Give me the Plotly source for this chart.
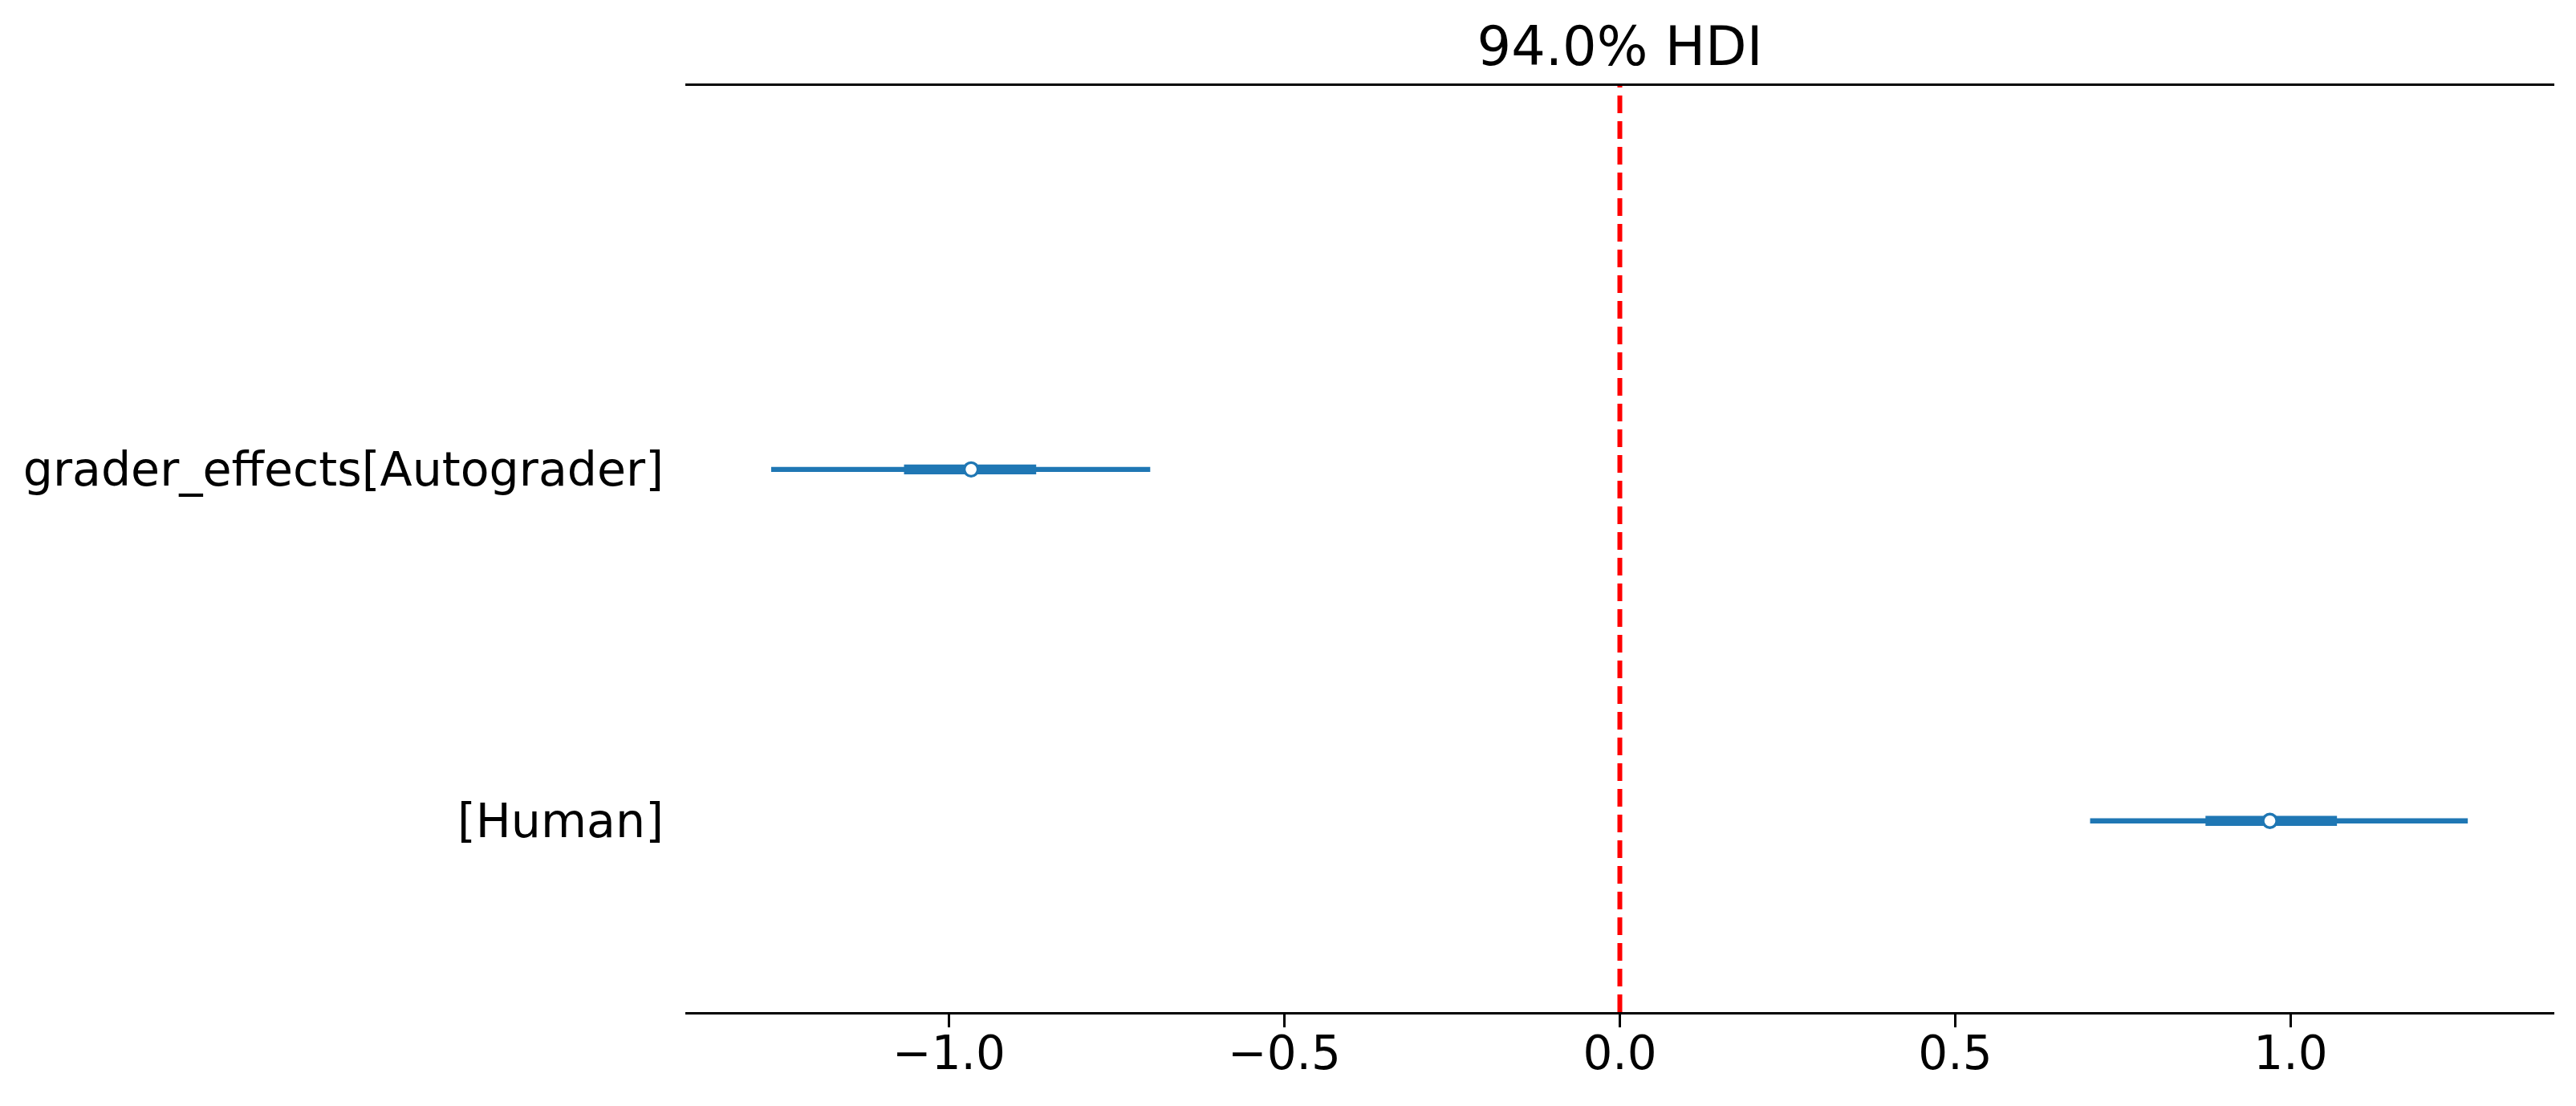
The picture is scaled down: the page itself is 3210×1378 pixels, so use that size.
import plotly.graph_objects as go

# ---- data ----
labels = ["grader_effects[Autograder]", "[Human]"]
row_pos = [1, 0]
hdi_low = [-1.265, 0.701]
hdi_high = [-0.700, 1.264]
q_low = [-1.067, 0.873]
q_high = [-0.870, 1.069]
medians = [-0.967, 0.969]
ref_val = 0.0
x_ticks = [-1.0, -0.5, 0.0, 0.5, 1.0]
title_text = "94.0% HDI"

BLUE = "#1f77b4"
FONT = "DejaVu Sans"

fig = go.Figure()

for i in range(len(labels)):
    fig.add_trace(go.Scatter(
        x=[hdi_low[i], hdi_high[i]], y=[row_pos[i], row_pos[i]],
        mode="lines", line=dict(color=BLUE, width=6.3),
        showlegend=False, hoverinfo="skip"))
    fig.add_trace(go.Scatter(
        x=[q_low[i], q_high[i]], y=[row_pos[i], row_pos[i]],
        mode="lines", line=dict(color=BLUE, width=12.3),
        showlegend=False, hoverinfo="skip"))
    fig.add_trace(go.Scatter(
        x=[medians[i]], y=[row_pos[i]],
        mode="markers",
        marker=dict(size=17, color="white", line=dict(color=BLUE, width=3.3)),
        showlegend=False))

fig.add_shape(type="line", xref="x", yref="paper",
              x0=ref_val, x1=ref_val, y0=0, y1=1,
              line=dict(color="red", width=6, dash="22px,10px"),
              layer="above")

# the page body adds an 8px offset; margins compensate for it
W, H = 3210, 1378
fig.update_layout(
    width=W, height=H,
    margin=dict(l=846, r=35, t=99, b=125, pad=0),
    paper_bgcolor="white", plot_bgcolor="white",
    font=dict(family=FONT, size=58, color="black"),
    title=dict(text=title_text, x=0.5, xref="paper", xanchor="center",
               y=1 - 50 / H, yref="container", yanchor="middle",
               font=dict(family=FONT, size=67, color="black")),
    xaxis=dict(range=[-1.393, 1.393], tickvals=x_ticks, tickformat=".1f",
               showgrid=False, zeroline=False,
               showline=True, linecolor="black", linewidth=3, mirror=True,
               ticks="outside", ticklen=16, tickwidth=3, tickcolor="black",
               ticklabelstandoff=-18,
               tickfont=dict(family=FONT, size=58, color="black")),
    yaxis=dict(range=[-0.544, 2.091], tickvals=row_pos, ticktext=labels,
               showgrid=False, zeroline=False, showline=False,
               ticks="", ticklabelstandoff=26,
               tickfont=dict(family=FONT, size=58.6, color="black")),
)

fig.write_html("out.html")
